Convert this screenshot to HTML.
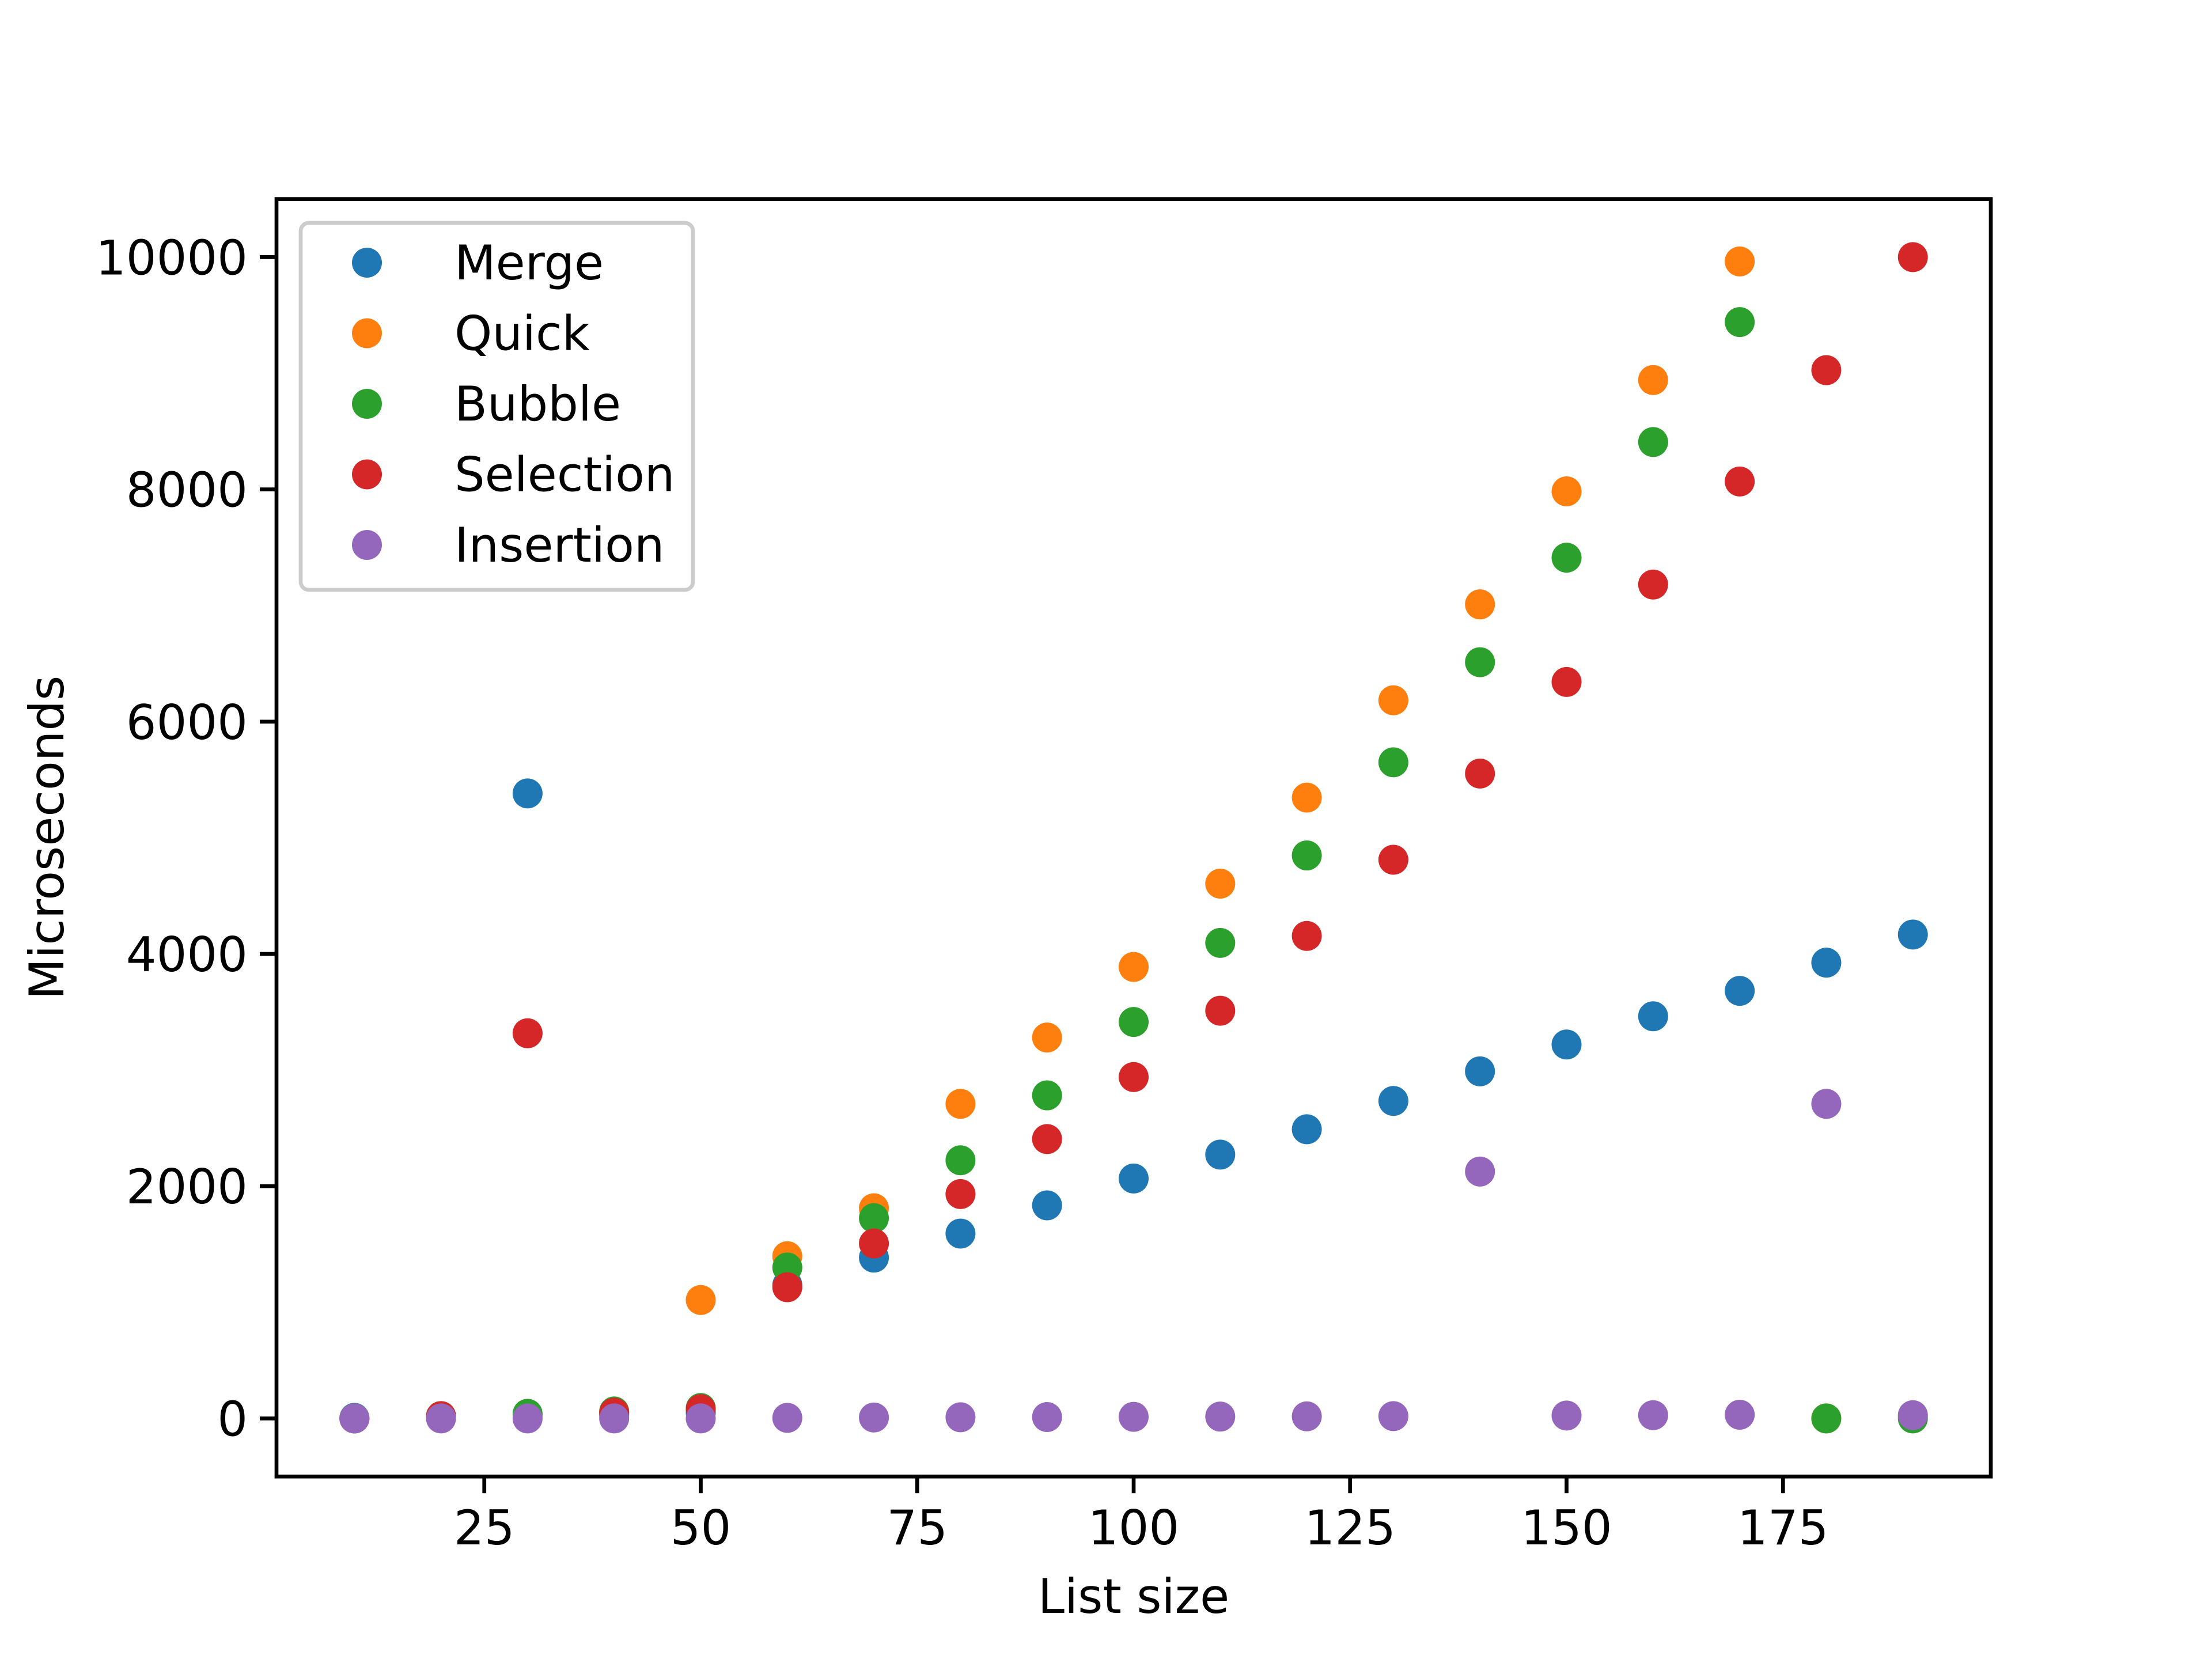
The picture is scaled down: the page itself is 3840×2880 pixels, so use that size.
<!DOCTYPE html>
<html><head><meta charset="utf-8"><style>
html,body{margin:0;padding:0;background:#fff;}
svg{display:block;font-family:"DejaVu Sans","Liberation Sans",sans-serif;}
</style></head><body>
<svg id="chart" width="3840" height="2880" viewBox="0 0 3840 2880" xmlns="http://www.w3.org/2000/svg">
<rect width="3840" height="2880" fill="#fff"/>
<g id="marks"></g>
<g id="axes"></g>
<text x="1968" y="2800" font-size="83" text-anchor="middle">List size</text>
<text transform="translate(110,1454) rotate(-90)" font-size="83" text-anchor="middle">Microseconds</text>
<g id="legend"></g>
</svg>
<script>
const sizes = [10,20,30,40,50,60,70,80,90,100,110,120,130,140,150,160,170,180,190];
const mergeVals = [5,10,5382,30,50,1150,1385,1592,1835,2066,2272,2490,2734,2989,3220,3463,3682,3925,4167];
const quickVals = [0,10,30,50,1020,1397,1810,2709,3280,3888,4605,5346,6184,7010,7983,8942,9963,0,20];
const bubbleVals = [0,20,40,60,90,1300,1725,2223,2782,3414,4095,4848,5650,6512,7412,8408,9441,0,0];
const selectionVals = [0,20,3317,50,80,1130,1507,1932,2406,2940,3511,4155,4811,5553,6342,7181,8068,9027,10000];
const insertionVals = [0,0,0,0,0,5,8,10,12,14,16,18,20,2126,25,28,32,2709,28];
const seriesNames = ["Merge","Quick","Bubble","Selection","Insertion"];
const xTicks = [25,50,75,100,125,150,175];
const yTicks = [0,2000,4000,6000,8000,10000];

const colors = ["#1f77b4","#ff7f0e","#2ca02c","#d62728","#9467bd"];
const L=480,R=3456,T=345.6,B=2563.2;
const xMin=1,xMax=199,yMin=-500,yMax=10500;
const sx=v=>L+(v-xMin)/(xMax-xMin)*(R-L);
const sy=v=>B-(v-yMin)/(yMax-yMin)*(B-T);
const NS="http://www.w3.org/2000/svg";
function mk(tag,attrs,parent){const e=document.createElementNS(NS,tag);for(const k in attrs)e.setAttribute(k,attrs[k]);parent.appendChild(e);return e;}
const marks=document.getElementById('marks');
const all=[mergeVals,quickVals,bubbleVals,selectionVals,insertionVals];
all.forEach((vals,si)=>{
  vals.forEach((v,i)=>{
    const c=mk('circle',{cx:sx(sizes[i]),cy:sy(v),r:26,fill:colors[si]},marks);
    
    
  });
});
const axes=document.getElementById('axes');
const frame=mk('rect',{x:L,y:T,width:R-L,height:B-T,fill:'none',stroke:'#000','stroke-width':6.7},axes);


xTicks.forEach(t=>{
  const x=sx(t);
  const ln=mk('line',{x1:x,x2:x,y1:B,y2:B+29,stroke:'#000','stroke-width':6.7},axes);
  
  
  const tx=mk('text',{x:x,y:B+118,'font-size':83,'text-anchor':'middle'},axes);
  tx.textContent=t;
  
  
});
yTicks.forEach(t=>{
  const y=sy(t);
  const ln=mk('line',{x1:L-29,x2:L,y1:y,y2:y,stroke:'#000','stroke-width':6.7},axes);
  
  
  const tx=mk('text',{x:L-50,y:y+30,'font-size':83,'text-anchor':'end'},axes);
  tx.textContent=t;
  
  
});
const lg=document.getElementById('legend');
const box=mk('rect',{x:522,y:387,width:681,height:637,rx:14,fill:'#fff','fill-opacity':0.8,stroke:'#ccc','stroke-width':6.7},lg);


seriesNames.forEach((n,i)=>{
  const y=456+i*122.5;
  const g=mk('g',{},lg);
  
  
  mk('circle',{cx:637,cy:y,r:26,fill:colors[i]},g);
  const tx=mk('text',{x:789,y:y+29,'font-size':83},g);
  tx.textContent=n;
});
</script>
</body></html>
